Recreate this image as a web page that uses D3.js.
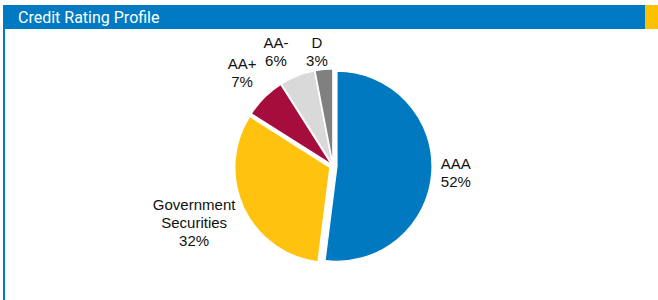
<!DOCTYPE html>
<html>
<head>
<meta charset="utf-8">
<script src="https://cdn.jsdelivr.net/npm/d3@7"></script>
<style>
  html, body { margin: 0; padding: 0; background: #fff; }
  svg { display: block; }
</style>
</head>
<body>
<script>
const width = 658;
const height = 300;

// Data
const categories = ["AAA", "Government Securities", "AA+", "AA-", "D"];
const shares = [52, 32, 7, 6, 3];
const labelLines = [["AAA"], ["Government", "Securities"], ["AA+"], ["AA-"], ["D"]];

// Styling (kept apart from data)
const colors = ["#0079C1", "#FFC20E", "#A50E3C", "#D9D9D9", "#808080"];
const explode = [4, 3.5, 2, 2, 2];
const labelRadius = [123, 150, 130.5, 128, 115.6];
const labelNudgeDeg = [-0.6, 3, 0.8, -4.9, -2.6];
const labelAnchor = ["start", "middle", "middle", "middle", "middle"];

const svg = d3.select("body")
  .append("svg")
  .attr("width", width)
  .attr("height", height)
  .attr("viewBox", [0, 0, width, height]);

// Header bar
svg.append("rect")
  .attr("x", 3).attr("y", 5)
  .attr("width", 642).attr("height", 24)
  .attr("fill", "#007AC2");
svg.append("rect")
  .attr("x", 645).attr("y", 5)
  .attr("width", 13).attr("height", 24)
  .attr("fill", "#FFC000");
svg.append("text")
  .attr("x", 18).attr("y", 23)
  .attr("fill", "#fff")
  .attr("font-family", "Roboto, sans-serif")
  .attr("font-size", 16)
  .text("Credit Rating Profile");

// Left border
svg.append("rect")
  .attr("x", 3).attr("y", 29)
  .attr("width", 2).attr("height", height - 29)
  .attr("fill", "#007AC2");

// Pie
const cx = 333, cy = 166, r = 95;
const g = svg.append("g").attr("transform", `translate(${cx},${cy})`);

const pie = d3.pie().sort(null).value(d => d)
  .startAngle(0).endAngle(2 * Math.PI);
const arcs = pie(shares);
const arc = d3.arc().innerRadius(0).outerRadius(r);

g.selectAll("path.slice")
  .data(arcs)
  .enter()
  .append("path")
  .attr("class", "slice")
  .attr("d", arc)
  .attr("fill", (d, i) => colors[i])
  .attr("stroke", "#fff")
  .attr("stroke-width", 1.2)
  .attr("transform", (d, i) => {
    const a = (d.startAngle + d.endAngle) / 2;
    return `translate(${Math.sin(a) * explode[i]},${-Math.cos(a) * explode[i]})`;
  });

// Labels
const fontSize = 15, lineH = 17.8, capH = 10.7;
const labels = g.selectAll("text.lbl")
  .data(arcs)
  .enter()
  .append("text")
  .attr("class", "lbl")
  .attr("font-family", "'Liberation Sans', Arial, sans-serif")
  .attr("font-size", fontSize)
  .attr("fill", "#111")
  .attr("text-anchor", (d, i) => labelAnchor[i]);

labels.each(function(d, i) {
  const a = (d.startAngle + d.endAngle) / 2 + labelNudgeDeg[i] * Math.PI / 180;
  let x = Math.sin(a) * labelRadius[i];
  const y = -Math.cos(a) * labelRadius[i];
  const lines = labelLines[i].concat([d3.format(".0f")(shares[i]) + "%"]);
  const t = d3.select(this);
  if (labelAnchor[i] === "start") {
    // position by block centre: shift left by half the first line
    const tmp = svg.append("text")
      .attr("font-family", "'Liberation Sans', Arial, sans-serif")
      .attr("font-size", fontSize).text(lines[0]);
    x -= tmp.node().getComputedTextLength() / 2;
    tmp.remove();
  }
  const y0 = y - (lines.length - 1) * lineH / 2 + capH / 2;
  lines.forEach((s, k) => {
    t.append("tspan").attr("x", x).attr("y", y0 + k * lineH).text(s);
  });
});
</script>
</body>
</html>
